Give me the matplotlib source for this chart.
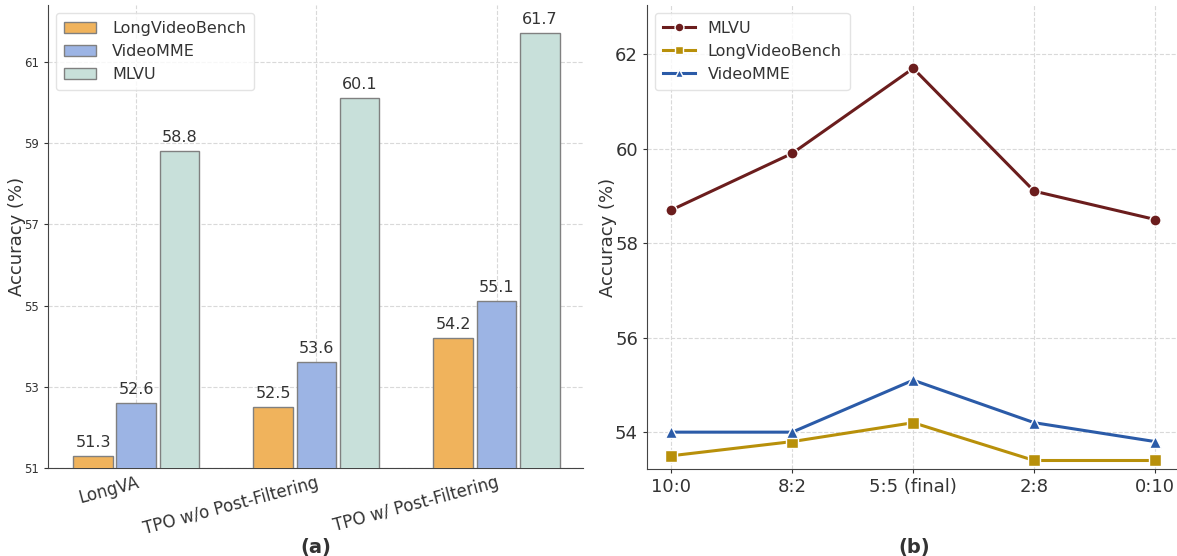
import numpy as np
import matplotlib
matplotlib.use("Agg")
import matplotlib.pyplot as plt

# data
models = ["LongVA", "TPO w/o Post-Filtering", "TPO w/ Post-Filtering"]
bar_series = ["LongVideoBench", "VideoMME", "MLVU"]
bar_lvb = [51.3, 52.5, 54.2]
bar_vmme = [52.6, 53.6, 55.1]
bar_mlvu = [58.8, 60.1, 61.7]

ratios = ["10:0", "8:2", "5:5 (final)", "2:8", "0:10"]
line_mlvu = [58.7, 59.9, 61.7, 59.1, 58.5]
line_lvb = [53.5, 53.8, 54.2, 53.4, 53.4]
line_vmme = [54.0, 54.0, 55.1, 54.2, 53.8]

txt = "#333333"
plt.rcParams["font.family"] = "DejaVu Sans"
plt.rcParams["text.color"] = txt
plt.rcParams["axes.labelcolor"] = txt
plt.rcParams["xtick.color"] = txt
plt.rcParams["ytick.color"] = txt

W, H = 1177, 556
fig = plt.figure(figsize=(W / 100, H / 100), dpi=100)

# ---- (a) bars
ax1 = fig.add_axes([48 / W, (H - 468) / H, (583 - 48) / W, (468 - 5) / H])
x = np.arange(len(models))
w = 0.22
off = 0.24
bar_colors = ["#f0b35c", "#9cb4e4", "#c8e0da"]
for i, (vals, name) in enumerate(zip([bar_lvb, bar_vmme, bar_mlvu], bar_series)):
    bars = ax1.bar(x + (i - 1) * off, vals, w, color=bar_colors[i],
                   edgecolor="#808080", linewidth=1.0, label=name, zorder=3)
    for b, v in zip(bars, vals):
        ax1.text(b.get_x() + b.get_width() / 2, v + 0.15, f"{v}", ha="center",
                 va="bottom", fontsize=11.5, color=txt)
ax1.set_ylim(51, 62.4)
ax1.set_xlim(-0.49, 2.48)
ax1.set_yticks([51, 53, 55, 57, 59, 61])
ax1.tick_params(axis="y", labelsize=8.5, length=3)
ax1.set_xticks(x)
ax1.set_xticklabels(models, rotation=15, ha="right", fontsize=12,
                    rotation_mode="anchor")
ax1.tick_params(axis="x", length=0, pad=4)
ax1.set_ylabel("Accuracy (%)", fontsize=13)
ax1.yaxis.set_label_coords(-0.042, 0.5)
ax1.grid(True, linestyle="--", color="#d9d9d9", linewidth=0.8, zorder=0)
ax1.spines["top"].set_visible(False)
ax1.spines["right"].set_visible(False)
ax1.spines["left"].set_color("#444444")
ax1.spines["bottom"].set_color("#444444")
ax1.legend(loc="upper left", fontsize=11.5, frameon=True, edgecolor="#dddddd",
           borderpad=0.5, labelspacing=0.5, handlelength=2.0,
           handletextpad=1.0)

# ---- (b) lines
ax2 = fig.add_axes([647 / W, (H - 469) / H, (1177 - 647) / W, (469 - 5) / H])
xr = np.arange(len(ratios))
ax2.plot(xr, line_mlvu, "-o", color="#6b1d1d", lw=2.2, ms=8,
         markeredgecolor="white", markeredgewidth=1, label="MLVU", zorder=3)
ax2.plot(xr, line_lvb, "-s", color="#b8900a", lw=2.2, ms=8,
         markeredgecolor="white", markeredgewidth=1, label="LongVideoBench", zorder=3)
ax2.plot(xr, line_vmme, "-^", color="#2b5ba8", lw=2.2, ms=8,
         markeredgecolor="white", markeredgewidth=1, label="VideoMME", zorder=3)
ax2.set_xlim(-0.2, 4.18)
ax2.set_ylim(53.22, 63.04)
ax2.set_yticks([54, 56, 58, 60, 62])
ax2.set_xticks(xr)
ax2.set_xticklabels(ratios)
ax2.tick_params(axis="both", labelsize=13, length=3)
ax2.set_ylabel("Accuracy (%)", fontsize=13)
ax2.yaxis.set_label_coords(-0.057, 0.5)
ax2.grid(True, linestyle="--", color="#d9d9d9", linewidth=0.8, zorder=0)
ax2.spines["top"].set_visible(False)
ax2.spines["right"].set_visible(False)
ax2.spines["left"].set_color("#444444")
ax2.spines["bottom"].set_color("#444444")
ax2.legend(loc="upper left", fontsize=11.5, frameon=True, edgecolor="#dddddd",
           borderpad=0.5, labelspacing=0.5, handlelength=2.0,
           handletextpad=0.8, markerscale=0.8)

fig.text(316 / W, 1 - 547 / H, "(a)", ha="center", va="center",
         fontsize=14, fontweight="bold")
fig.text(914 / W, 1 - 547 / H, "(b)", ha="center", va="center",
         fontsize=14, fontweight="bold")

fig.savefig("out.png", dpi=100)
